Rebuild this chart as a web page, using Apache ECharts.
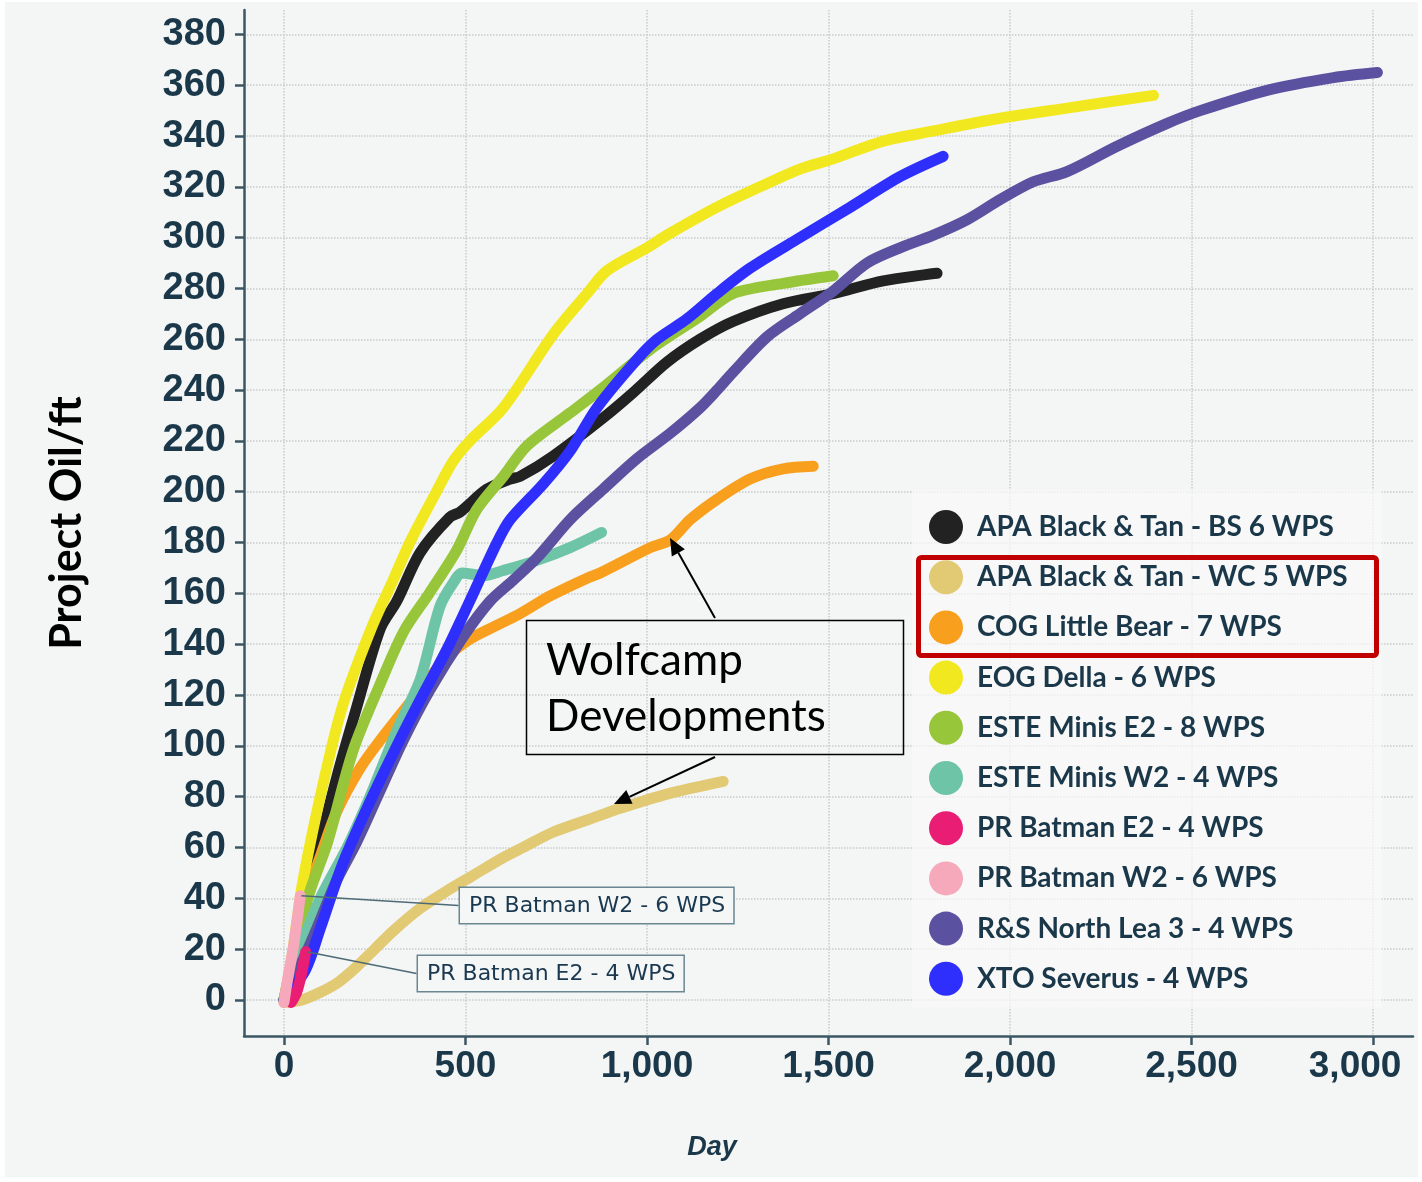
<!DOCTYPE html>
<html><head><meta charset="utf-8">
<script src="https://cdn.jsdelivr.net/npm/echarts@6/dist/echarts.min.js"></script>
<style>html,body{margin:0;padding:0;background:#fff}#c{width:1422px;height:1182px}</style>
</head><body><div id="c"></div>
<script>
// ---- tick labels ----
const xTicks = [0, 500, 1000, 1500, 2000, 2500, 3000];
const yTicks = [0,20,40,60,80,100,120,140,160,180,200,220,240,260,280,300,320,340,360,380];

// ---- series names (legend order) ----
const names = [
  'APA Black & Tan - BS 6 WPS',
  'APA Black & Tan - WC 5 WPS',
  'COG Little Bear - 7 WPS',
  'EOG Della - 6 WPS',
  'ESTE Minis E2 - 8 WPS',
  'ESTE Minis W2 - 4 WPS',
  'PR Batman E2 - 4 WPS',
  'PR Batman W2 - 6 WPS',
  'R&S North Lea 3 - 4 WPS',
  'XTO Severus - 4 WPS'
];

// ---- series values [day, oil/ft] ----
const apaBS = [[0,0],[40,25],[100,62],[150,90],[200,115],[265,146],[311,157],[375,176],[457,190],[485,192],[559,201],[623,205],[650,206],[741,214],[879,229],[962,239],[1055,251],[1146,260],[1237,267],[1375,274],[1513,278],[1651,283],[1799,286]];
const apaWC = [[0,-1],[50,0],[100,3],[150,7],[200,13],[250,20],[300,27],[375,36],[450,43],[521,49],[604,56],[659,60],[741,66],[879,73],[917,75],[1055,81],[1210,86]];
const cogLB = [[0,0],[30,20],[63,41],[99,56],[145,74],[209,91],[264,102],[375,122],[450,135],[512,142],[580,147],[650,152],[733,159],[835,166],[871,168],[1009,178],[1064,181],[1119,189],[1193,197],[1284,205],[1375,209],[1458,210]];
const eogDella = [[0,0],[20,15],[50,45],[100,80],[160,115],[240,146],[300,165],[350,181],[420,200],[466,212],[512,220],[604,233],[742,262],[835,278],[890,287],[1000,296],[1055,301],[1193,312],[1311,320],[1421,327],[1513,331],[1651,338],[1789,342],[1973,347],[2157,351],[2395,356]];
const esteE2 = [[0,0],[30,20],[70,42],[120,62],[190,98],[264,124],[330,145],[400,160],[476,177],[531,193],[604,206],[669,218],[788,231],[879,241],[1009,256],[1146,269],[1237,278],[1375,282],[1513,285]];
const esteW2 = [[0,0],[50,22],[100,40],[174,60],[237,80],[311,106],[375,126],[430,155],[470,165],[490,168],[550,167],[604,169],[697,173],[788,178],[875,184]];
const prE2 = [[20,-1],[35,3],[48,10],[60,19]];
const prW2 = [[0,-1],[10,8],[25,20],[35,30],[45,41]];
const rsNL = [[0,0],[50,15],[90,28],[145,47],[200,62],[264,82],[328,102],[402,122],[494,143],[568,157],[630,165],[697,174],[788,189],[879,201],[972,213],[1064,223],[1146,233],[1193,240],[1237,247],[1331,261],[1421,270],[1513,279],[1606,290],[1697,296],[1789,301],[1881,307],[1973,315],[2064,322],[2157,326],[2295,336],[2433,345],[2524,350],[2708,358],[2891,363],[3012,365]];
const xtoSev = [[0,0],[60,12],[100,28],[163,54],[237,78],[311,100],[375,118],[449,138],[512,157],[587,180],[623,189],[714,203],[788,216],[862,233],[972,252],[1028,260],[1110,268],[1193,278],[1284,288],[1421,300],[1560,312],[1697,324],[1816,332]];

const seriesData = [apaBS, apaWC, cogLB, eogDella, esteE2, esteW2, prE2, prW2, rsNL, xtoSev];
const colors = ['#222222','#e2c973','#f8a01e','#f2e81f','#98c63a','#6dc4a6','#ea1d74','#f5a9bb','#5b51a1','#2f2ffd'];

const chart = echarts.init(document.getElementById('c'), null, {renderer:'canvas'});
const axisColor = '#3b5763';
const labelColor = '#1a3849';

const calloutLabel = (text) => ({
  show: true, formatter: text, color: '#1a3850', fontFamily: 'DejaVu Sans', fontSize: 22,
  backgroundColor: '#f5f7f7', borderColor: '#6a8791', borderWidth: 1.5, padding: [7, 8, 6, 9]
});

const series = seriesData.map((d, i) => {
  const s = {
    type: 'line', name: names[i], data: d.map(p => ({value: p})), showSymbol: true, symbol: 'none',
    smooth: 0.3, z: (i === 6 || i === 7) ? 4 : 2,
    lineStyle: {width: 11, color: colors[i], cap: 'round', join: 'round'},
    itemStyle: {color: colors[i]}, emphasis: {disabled: true}, silent: true
  };
  if (i === 6 || i === 7) {
    const last = d.length - 1;
    s.data[last] = {value: d[last], symbol: 'circle', symbolSize: 2,
      label: calloutLabel(names[i])};
    s.labelLine = {show: true, lineStyle: {color: '#4c6b77', width: 1.5}};
    s.labelLayout = i === 7 ? {x: 460, y: 888, align: 'left', verticalAlign: 'top'}
                            : {x: 418, y: 956, align: 'left', verticalAlign: 'top'};
  }
  return s;
});

function arrow(x1, y1, x2, y2) {
  const dx = x2 - x1, dy = y2 - y1, L = Math.hypot(dx, dy), ux = dx / L, uy = dy / L;
  const hl = 17, hw = 7.5, bx = x2 - ux * hl, by = y2 - uy * hl, nx = -uy, ny = ux;
  return [
    {type: 'line', shape: {x1, y1, x2: bx, y2: by}, style: {stroke: '#000', lineWidth: 2}, z: 100},
    {type: 'polygon', shape: {points: [[x2, y2], [bx + nx * hw, by + ny * hw], [bx - nx * hw, by - ny * hw]]}, style: {fill: '#000'}, z: 100}
  ];
}

chart.setOption({
  animation: false,
  backgroundColor: '#ffffff',
  color: colors,
  grid: {left: 244, right: 9, top: 10, bottom: 146, containLabel: false},
  xAxis: {
    type: 'value', min: -110, max: 3110,
    axisLine: {show: true, onZero: false, lineStyle: {color: axisColor, width: 2.5}},
    axisTick: {show: true, length: 9, lineStyle: {color: axisColor, width: 2.5}, customValues: xTicks},
    axisLabel: {customValues: xTicks, margin: 12, color: labelColor, fontFamily: 'Liberation Sans', fontWeight: 'bold', fontSize: 37,
      formatter: v => v === 3000 ? '{last|' + Number(v).toLocaleString('en-US') + '}' : Number(v).toLocaleString('en-US'),
      rich: {last: {color: labelColor, fontFamily: 'Liberation Sans', fontWeight: 'bold', fontSize: 37, padding: [0, 36, 0, 0]}}},
    splitLine: {show: true, lineStyle: {color: '#c6cbcb', type: 'dotted', width: 1.5}}
  },
  yAxis: {
    type: 'value', min: -14.2, max: 389.6,
    name: 'Project Oil/ft', nameLocation: 'middle', nameGap: 155,
    nameTextStyle: {color: '#000', fontFamily: 'Lato', fontWeight: 'bold', fontSize: 43},
    axisLine: {show: true, onZero: false, lineStyle: {color: axisColor, width: 2.5}},
    axisTick: {show: true, length: 9, lineStyle: {color: axisColor, width: 2.5}, customValues: yTicks},
    axisLabel: {customValues: yTicks, margin: 18, color: labelColor, fontFamily: 'Liberation Sans', fontWeight: 'bold', fontSize: 38},
    splitLine: {show: true, lineStyle: {color: '#c6cbcb', type: 'dotted', width: 1.5}}
  },
  legend: {
    orient: 'vertical', left: 912, top: 490, selectedMode: false,
    padding: [20, 34, 12, 17], backgroundColor: 'rgba(249,250,250,0.7)',
    icon: 'circle', itemWidth: 34, itemHeight: 34, itemGap: 16.2,
    textStyle: {color: '#1a3849', fontFamily: 'Lato', fontWeight: 'bold', fontSize: 28, padding: [0, 0, 0, 9]},
    data: names
  },
  graphic: [
    {type: 'rect', shape: {x: 5, y: 2, width: 1413, height: 1175}, style: {fill: '#f4f5f5'}, z: -100, silent: true},
    {type: 'rect', shape: {x: 918.5, y: 557.5, width: 458, height: 98, r: 3}, style: {fill: 'none', stroke: '#c00000', lineWidth: 5}, z: 100},
    {type: 'rect', shape: {x: 526.5, y: 620.5, width: 377, height: 134}, style: {fill: 'none', stroke: '#000', lineWidth: 1.5}, z: 100},
    {type: 'text', x: 546, y: 661, style: {text: 'Wolfcamp', fill: '#000', font: '44px Lato', textVerticalAlign: 'middle'}, z: 100},
    {type: 'text', x: 546, y: 717, style: {text: 'Developments', fill: '#000', font: '44px Lato', textVerticalAlign: 'middle'}, z: 100},
    ...arrow(715, 618, 670, 538),
    ...arrow(715, 757, 614, 804),
    {type: 'text', x: 712, y: 1148, style: {text: 'Day', fill: labelColor, font: 'italic bold 27px "Liberation Sans"', textAlign: 'center', textVerticalAlign: 'middle'}, z: 100}
  ],
  series: series
});
</script></body></html>
